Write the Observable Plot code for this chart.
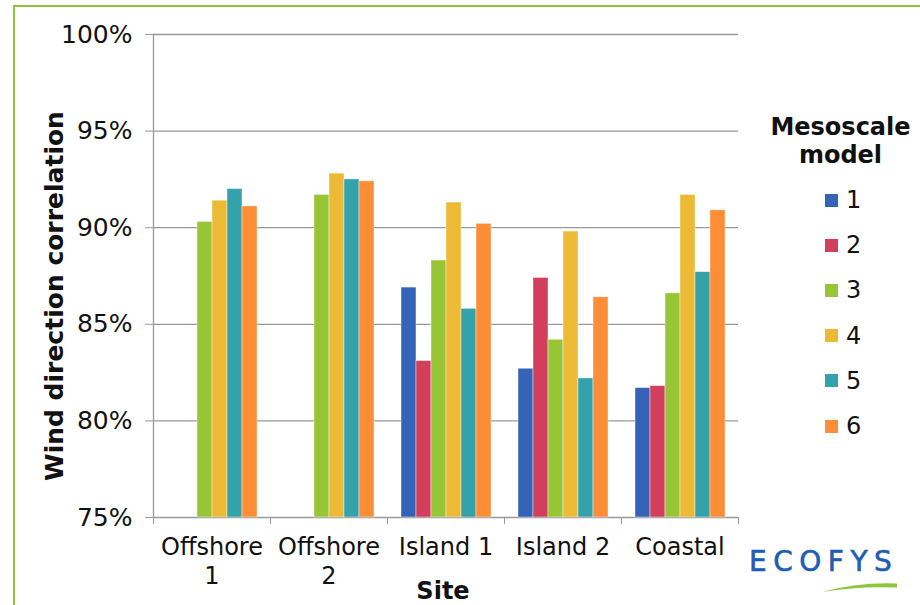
<!DOCTYPE html>
<html>
<head>
<meta charset="utf-8">
<script src="https://cdn.jsdelivr.net/npm/d3@7"></script>
<script src="https://cdn.jsdelivr.net/npm/@observablehq/plot@0.6"></script>
<style>
  html, body { margin: 0; padding: 0; background: #fff; }
  #wrap { position: relative; width: 920px; height: 605px; overflow: hidden; font-family: "DejaVu Sans", Verdana, sans-serif; color: #111; background: #fff; }
  #border { position: absolute; left: 13px; top: 5px; width: 950px; height: 700px; border-top: 2.5px solid #8cc63f; border-left: 2.5px solid #8cc63f; z-index: 5; pointer-events: none; }
  #chart { position: absolute; left: 0; top: 0; }
  .ylab { position: absolute; left: 54px; top: 296px; transform: translate(-50%, -50%) rotate(-90deg); font-weight: bold; font-size: 25px; white-space: nowrap; }
  .xlab { position: absolute; left: 443px; top: 591px; transform: translate(-50%, -50%); font-weight: bold; font-size: 24px; }
  #legend { position: absolute; left: 760px; top: 113px; width: 165px; }
  .ltitle { text-align: center; font-weight: bold; font-size: 24px; line-height: 28px; margin-left: -4px; }
  .item { position: absolute; left: 65px; height: 28px; display: flex; align-items: center; font-size: 24px; }
  .sw { width: 13px; height: 13px; margin-right: 8px; }
  #logo { position: absolute; left: 749px; top: 545px; font-size: 28px; letter-spacing: 6.5px; color: #1d5db5; -webkit-text-stroke: 0.6px #1d5db5; }
  #swoosh { position: absolute; left: 0; top: 0; }
</style>
</head>
<body>
<div id="wrap">
  <div id="chart"></div>
  <div class="ylab">Wind direction correlation</div>
  <div class="xlab">Site</div>
  <div id="legend"><div class="ltitle">Mesoscale<br>model</div></div>
  <div id="logo">ECOFYS</div>
  <svg id="swoosh" width="920" height="605"><path d="M822,592 Q858,582 897,583.5 L897,587.5 Q858,586 822,592 Z" fill="#8cc63f"/></svg>
  <div id="border"></div>
</div>
<script>
const sites = ["Offshore 1", "Offshore 2", "Island 1", "Island 2", "Coastal"];
const siteLabels = ["Offshore\n1", "Offshore\n2", "Island 1", "Island 2", "Coastal"];
const models = ["1", "2", "3", "4", "5", "6"];
const colors = ["#3563b7", "#d13f5d", "#98c536", "#ecba35", "#34a2ab", "#fd8d36"];
const model1 = [null, null, 86.9, 82.7, 81.7];
const model2 = [null, null, 83.1, 87.4, 81.8];
const model3 = [90.3, 91.7, 88.3, 84.2, 86.6];
const model4 = [91.4, 92.8, 91.3, 89.8, 91.7];
const model5 = [92.0, 92.5, 85.8, 82.2, 87.7];
const model6 = [91.1, 92.4, 90.2, 86.4, 90.9];
const yTicks = [75, 80, 85, 90, 95, 100];

const series = [model1, model2, model3, model4, model5, model6];
const data = [];
sites.forEach((s, i) => {
  models.forEach((m, j) => {
    const v = series[j][i];
    if (v != null) data.push({site: s, model: m, value: v});
  });
});

const W = 920, H = 605, ML = 153, MR = 182;
const half = (W - ML - MR) / sites.length / 2;

const chart = Plot.plot({
  width: W, height: H,
  marginLeft: ML, marginRight: MR, marginTop: 34, marginBottom: 88,
  style: {fontFamily: "'DejaVu Sans', Verdana, sans-serif", fontSize: "24px", color: "#111", background: "#fff"},
  fx: {domain: sites, padding: 0},
  x: {domain: models, paddingInner: 0, paddingOuter: 0.74, axis: null},
  y: {domain: [yTicks[0], yTicks[yTicks.length - 1]]},
  color: {domain: models, range: colors},
  marks: [
    Plot.ruleY(yTicks, {stroke: "#999", strokeWidth: 1.3}),
    Plot.frame({anchor: "left", facetAnchor: "left", stroke: "#999", strokeWidth: 1.3}),
    Plot.barY(data, {fx: "site", x: "model", y1: yTicks[0], y2: "value", fill: "model", stroke: "#fff", strokeWidth: 0.7, strokeOpacity: 0.6}),
    Plot.axisY({ticks: yTicks, tickSize: 8, tickPadding: 13, tickFormat: d => d + "%", stroke: "#999", fill: "#111", fontSize: 25, label: null}),
    Plot.axisFx({anchor: "bottom", tickSize: 0, tickPadding: 17, tickFormat: d => siteLabels[sites.indexOf(d)], lineHeight: 1.2, fontSize: 24, fill: "#111", label: null}),
    Plot.axisFx({anchor: "bottom", tickSize: 7, tickFormat: () => "", dx: -half, stroke: "#999", label: null}),
    Plot.axisFx({anchor: "bottom", ticks: [sites[sites.length - 1]], tickSize: 7, tickFormat: () => "", dx: half, stroke: "#999", label: null})
  ]
});
document.getElementById("chart").appendChild(chart);

const legend = document.getElementById("legend");
models.forEach((m, i) => {
  const it = document.createElement("div");
  it.className = "item";
  it.style.top = (73 + i * 45.2) + "px";
  it.innerHTML = `<span class="sw" style="background:${colors[i]}"></span><span>${m}</span>`;
  legend.appendChild(it);
});
</script>
</body>
</html>
